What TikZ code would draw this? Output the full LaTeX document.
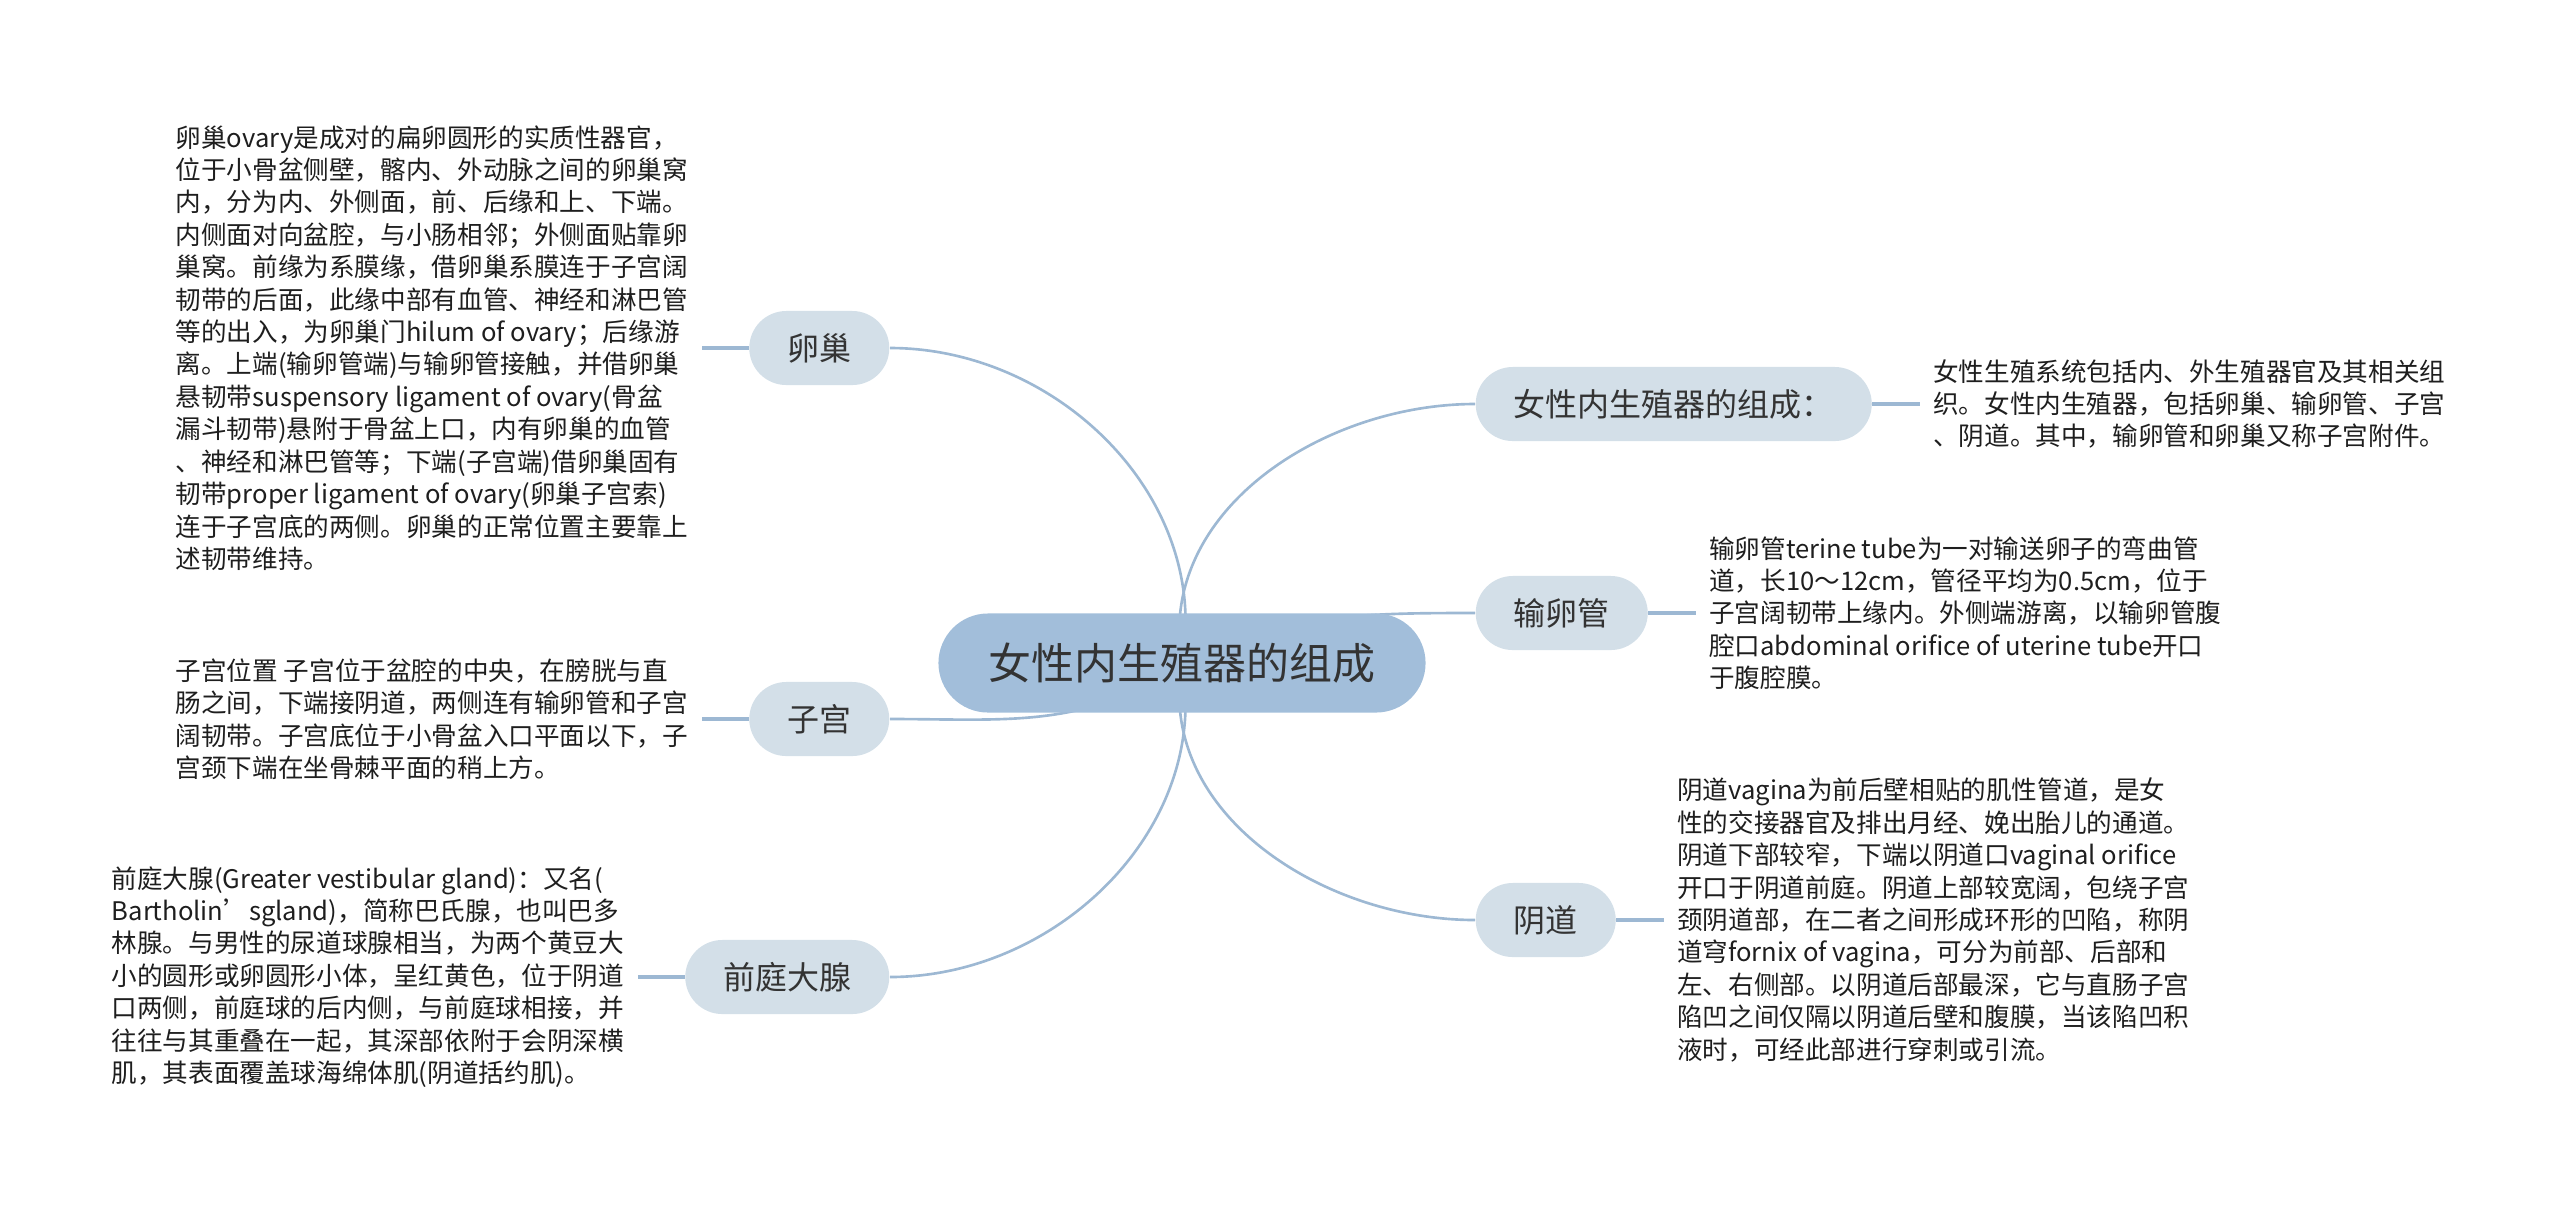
\documentclass[tikz,border=0pt]{standalone}
\usepackage{fontspec}
\setmainfont{Noto Sans CJK SC}
\usetikzlibrary{positioning,backgrounds}
\definecolor{rootfill}{HTML}{A2BEDA}
\definecolor{topicfill}{HTML}{D3DFE8}
\definecolor{linkcol}{HTML}{9DB8D3}
\definecolor{inkcol}{HTML}{333333}
\definecolor{leafink}{HTML}{1E1E1E}

\begin{document}
\begin{tikzpicture}[x=0.01cm, y=0.01cm, node distance=0.47cm,
	root/.style={fill=rootfill, rounded corners=0.495cm, minimum height=0.99cm,
		inner xsep=0.5cm, inner ysep=0pt, text=inkcol,
		font=\fontsize{12.23pt}{14pt}\selectfont},
	topic/.style={fill=topicfill, rounded corners=0.37cm, minimum height=0.74cm,
		inner xsep=0.38cm, inner ysep=0pt, text=inkcol,
		font=\fontsize{9.1pt}{11pt}\selectfont},
	leaf/.style={align=left, inner xsep=0.13cm, inner ysep=0pt, text=leafink,
		font=\fontsize{7.28pt}{9.22pt}\selectfont},
	link/.style={draw=linkcol, line width=0.75pt},
	twig/.style={draw=linkcol, line width=1.2pt}]
	\useasboundingbox (0,0) rectangle (2560,-1211);

	% centre and main topics
	\node[root] (root) at (1182,-663) {女性内生殖器的组成};
	\node[topic, anchor=east] (ovary) at (890,-348) {卵巢};
	\node[topic, anchor=east] (uterus) at (890,-719) {子宫};
	\node[topic, anchor=east] (gland) at (890,-977) {前庭大腺};
	\node[topic, anchor=west] (intro) at (1475,-404) {女性内生殖器的组成：};
	\node[topic, anchor=west] (tube) at (1475,-613) {输卵管};
	\node[topic, anchor=west] (vagina) at (1475,-920) {阴道};

	% notes
	\node[leaf, left=of ovary] (ovaryText) {卵巢ovary是成对的扁卵圆形的实质性器官，\\
		位于小骨盆侧壁，髂内、外动脉之间的卵巢窝\\
		内，分为内、外侧面，前、后缘和上、下端。\\
		内侧面对向盆腔，与小肠相邻；外侧面贴靠卵\\
		巢窝。前缘为系膜缘，借卵巢系膜连于子宫阔\\
		韧带的后面，此缘中部有血管、神经和淋巴管\\
		等的出入，为卵巢门hilum of ovary；后缘游\\
		离。上端(输卵管端)与输卵管接触，并借卵巢\\
		悬韧带suspensory ligament of ovary(骨盆\\
		漏斗韧带)悬附于骨盆上口，内有卵巢的血管\\
		、神经和淋巴管等；下端(子宫端)借卵巢固有\\
		韧带proper ligament of ovary(卵巢子宫索)\\
		连于子宫底的两侧。卵巢的正常位置主要靠上\\
		述韧带维持。};
	\node[leaf, left=of uterus] (uterusText) {子宫位置 子宫位于盆腔的中央，在膀胱与直\\
		肠之间，下端接阴道，两侧连有输卵管和子宫\\
		阔韧带。子宫底位于小骨盆入口平面以下，子\\
		宫颈下端在坐骨棘平面的稍上方。};
	\node[leaf, left=of gland] (glandText) {前庭大腺(Greater vestibular gland)：又名(\\
		Bartholin’sgland)，简称巴氏腺，也叫巴多\\
		林腺。与男性的尿道球腺相当，为两个黄豆大\\
		小的圆形或卵圆形小体，呈红黄色，位于阴道\\
		口两侧，前庭球的后内侧，与前庭球相接，并\\
		往往与其重叠在一起，其深部依附于会阴深横\\
		肌，其表面覆盖球海绵体肌(阴道括约肌)。};
	\node[leaf, right=of intro] (introText) {女性生殖系统包括内、外生殖器官及其相关组\\
		织。女性内生殖器，包括卵巢、输卵管、子宫\\
		、阴道。其中，输卵管和卵巢又称子宫附件。};
	\node[leaf, right=of tube] (tubeText) {输卵管terine tube为一对输送卵子的弯曲管\\
		道，长10～12cm，管径平均为0.5cm，位于\\
		子宫阔韧带上缘内。外侧端游离，以输卵管腹\\
		腔口abdominal orifice of uterine tube开口\\
		于腹腔膜。};
	\node[leaf, right=of vagina] (vaginaText) {阴道vagina为前后壁相贴的肌性管道，是女\\
		性的交接器官及排出月经、娩出胎儿的通道。\\
		阴道下部较窄，下端以阴道口vaginal orifice\\
		开口于阴道前庭。阴道上部较宽阔，包绕子宫\\
		颈阴道部，在二者之间形成环形的凹陷，称阴\\
		道穹fornix of vagina，可分为前部、后部和\\
		左、右侧部。以阴道后部最深，它与直肠子宫\\
		陷凹之间仅隔以阴道后壁和腹膜，当该陷凹积\\
		液时，可经此部进行穿刺或引流。};

	\begin{scope}[on background layer]
		\draw[link] (root.center) to[out=80,in=0] (ovary.east);
		\draw[link] (root.center) to[out=215,in=0] (uterus.east);
		\draw[link] (root.center) to[out=280,in=0] (gland.east);
		\draw[link] (root.center) to[out=100,in=180] (intro.west);
		\draw[link] (root.center) to[out=25,in=180] (tube.west);
		\draw[link] (root.center) to[out=260,in=180] (vagina.west);
	\end{scope}
	\draw[twig] (ovary) -- (ovaryText);
	\draw[twig] (uterus) -- (uterusText);
	\draw[twig] (gland) -- (glandText);
	\draw[twig] (intro) -- (introText);
	\draw[twig] (tube) -- (tubeText);
	\draw[twig] (vagina) -- (vaginaText);
\end{tikzpicture}
\end{document}
